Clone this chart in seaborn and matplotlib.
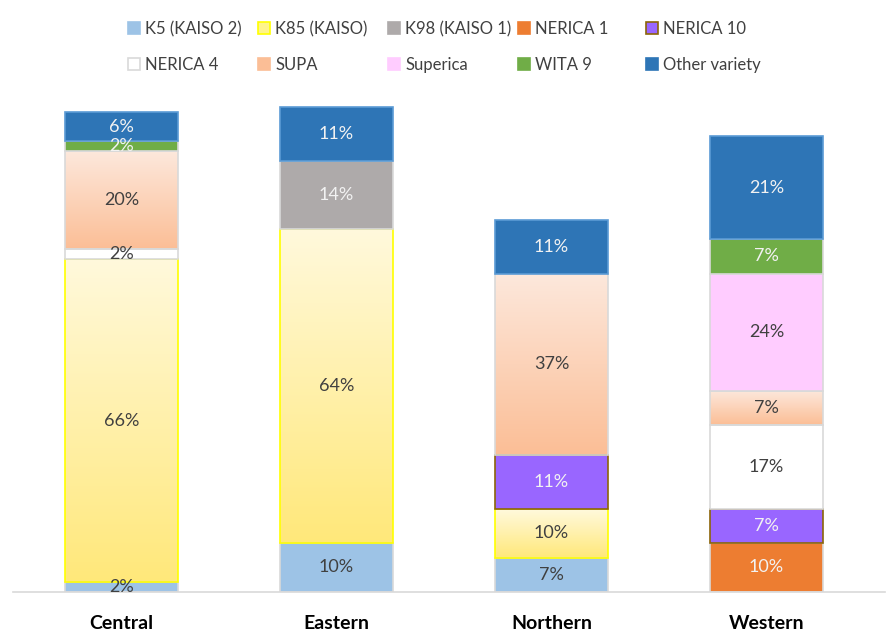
import numpy as np
import pandas as pd
import matplotlib
matplotlib.use("Agg")
import matplotlib.pyplot as plt
import seaborn as sns
from matplotlib.colors import LinearSegmentedColormap
from matplotlib.patches import Patch

# ---------------- data ----------------
regions = ["Central", "Eastern", "Northern", "Western"]
varieties = ["K5 (KAISO 2)", "K85 (KAISO)", "K98 (KAISO 1)", "NERICA 1", "NERICA 10",
             "NERICA 4", "SUPA", "Superica", "WITA 9", "Other variety"]
k5 = [2, 10, 7, 0]
k85 = [66, 64, 10, 0]
k98 = [0, 14, 0, 0]
nerica1 = [0, 0, 0, 10]
nerica10 = [0, 0, 11, 7]
nerica4 = [2, 0, 0, 17]
supa = [20, 0, 37, 7]
superica = [0, 0, 0, 24]
wita9 = [2, 0, 0, 7]
other = [6, 11, 11, 21]
series = [k5, k85, k98, nerica1, nerica10, nerica4, supa, superica, wita9, other]

# ---------------- styles ----------------
face = ["#9DC3E6", "#FFF2B0", "#AEAAAA", "#ED7D31", "#9966FF",
        "#FFFFFF", "#FCD0B4", "#FFCCFF", "#70AD47", "#2E75B6"]
edge = ["#D9D9D9", "#FFFF00", "#D9D9D9", "#D9D9D9", "#8B6508",
        "#D9D9D9", "#D9D9D9", "#D9D9D9", "#D9D9D9", "#5B9BD5"]
txt = ["#404040", "#404040", "#F2F2F2", "#F2F2F2", "#F2F2F2",
       "#404040", "#404040", "#404040", "#F2F2F2", "#F2F2F2"]
gradients = {1: ("#FFF9DC", "#FFE87A"), 6: ("#FDE8DC", "#FBBE96")}

sns.set_theme(style="white")
plt.rcParams["font.family"] = ["Lato", "DejaVu Sans"]

fig = plt.figure(figsize=(8.92, 6.43), dpi=100)
ax = fig.add_axes([13 / 892, 51 / 643, 872 / 892, 490 / 643])

df = pd.DataFrame({"region": regions})
bottom = np.zeros(len(regions))
for i, (name, vals) in enumerate(zip(varieties, series)):
    n0 = len(ax.patches)
    d = df.assign(value=vals)
    sns.barplot(data=d, x="region", y="value", order=regions, color=face[i],
                errorbar=None, width=0.525, bottom=bottom, edgecolor=edge[i],
                linewidth=1.2, saturation=1, ax=ax)
    new = ax.patches[n0:]
    for p, v in zip(new, vals):
        if v == 0:
            p.set_visible(False)
            continue
        x0, y0 = p.get_x(), p.get_y()
        w, h = p.get_width(), p.get_height()
        if i in gradients:
            top_c, bot_c = gradients[i]
            cmap = LinearSegmentedColormap.from_list("g%d" % i, [bot_c, top_c])
            grad = np.linspace(0, 1, 256).reshape(-1, 1)
            im = ax.imshow(grad, extent=[x0, x0 + w, y0, y0 + h], origin="lower",
                           cmap=cmap, aspect="auto", interpolation="bilinear",
                           zorder=p.get_zorder() - 0.05)
            im.set_clip_path(p)
            p.set_facecolor("none")
        ax.text(x0 + w / 2, y0 + h / 2, f"{v}%", ha="center", va="center",
                fontsize=13, color=txt[i], zorder=5)
    bottom = bottom + np.array(vals)

ax.set_xlim(-0.505, 3.551)
ax.set_ylim(0, 100)
ax.set_xlabel("")
ax.set_ylabel("")
ax.set_yticks([])
for s in ["left", "right", "top"]:
    ax.spines[s].set_visible(False)
ax.spines["bottom"].set_color("#D9D9D9")
ax.spines["bottom"].set_linewidth(1.2)
ax.tick_params(axis="x", length=0, pad=16.5, labelsize=14)
for lab in ax.get_xticklabels():
    lab.set_fontweight("bold")
    lab.set_color("#000000")

# ---------------- legend (5 columns, 2 rows) ----------------
handles = []
for i, name in enumerate(varieties):
    fc = face[i]
    if i in gradients:
        fc = gradients[i][1] if i == 6 else "#FFF48A"
    ec = edge[i] if i in (1, 4, 5) else fc
    handles.append(Patch(facecolor=fc, edgecolor=ec, linewidth=1.2, label=name))

col_x = [128, 258, 388, 518, 646]
for j, cx in enumerate(col_x):
    leg = fig.legend(handles=[handles[j], handles[j + 5]], loc="upper left",
                     bbox_to_anchor=(cx / 892, 1 - 21 / 643), frameon=False,
                     fontsize=12, handlelength=0.72, handleheight=0.72,
                     handletextpad=0.3, labelspacing=1.2, borderpad=0,
                     borderaxespad=0)
    for t in leg.get_texts():
        t.set_color("#404040")

fig.savefig("out.png", dpi=100)
